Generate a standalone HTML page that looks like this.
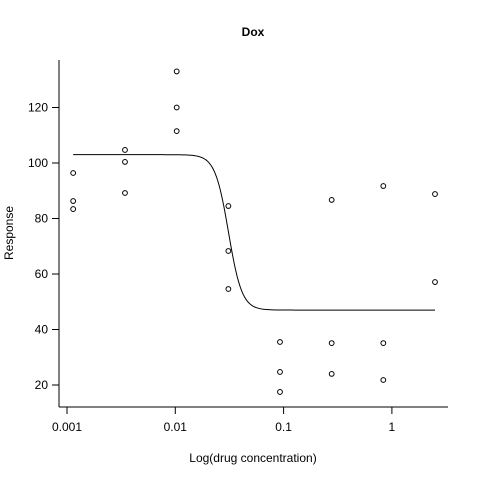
<!DOCTYPE html>
<html><head><meta charset="utf-8"><style>
body{margin:0;background:#fff}
svg text{font-family:"Liberation Sans",Arial,sans-serif;font-size:12px;fill:#000}
</style></head><body>
<svg width="480" height="480" viewBox="0 0 480 480">
<rect width="480" height="480" fill="#fff"/>
<g id="g"></g>
</svg>
<script>
const doses=[0.00114,0.00343,0.0103,0.0309,0.0926,0.278,0.833,2.5];
const responses=[[96.4,86.3,83.4],[104.7,100.4,89.2],[133,120,111.5],[84.5,68.3,54.6],[35.5,24.7,17.5],[86.7,35.1,24],[91.7,35.1,21.8],[88.8,57.1]];
const xTicks=[0.001,0.01,0.1,1];
const xTickLabels=["0.001","0.01","0.1","1"];
const yTicks=[20,40,60,80,100,120];
const fitParams=[103,47,0.031,7]; // top,bottom,ec50,hill
const NS="http://www.w3.org/2000/svg";
const g=document.getElementById('g');
const sx=v=>67+(Math.log10(v)+3)*108.3;
const sy=v=>385-(v-20)*2.775;
function mk(t,a,p){const e=document.createElementNS(NS,t);for(const k in a)e.setAttribute(k,a[k]);(p||g).appendChild(e);return e;}
let ax=mk('line',{x1:59,y1:407,x2:448,y2:407,stroke:'#000'});


let ay=mk('line',{x1:59,y1:60,x2:59,y2:407,stroke:'#000'});


xTicks.forEach((v,i)=>{const x=sx(v);
 const t=mk('line',{x1:x,y1:407,x2:x,y2:414,stroke:'#000'});
 
 
 const l=mk('text',{x:x,y:431,'text-anchor':'middle'});l.textContent=xTickLabels[i];
 
 });
yTicks.forEach(v=>{const y=sy(v);
 const t=mk('line',{x1:52,y1:y,x2:59,y2:y,stroke:'#000'});
 
 
 const l=mk('text',{x:48,y:y+4,'text-anchor':'end'});l.textContent=v;
 
 });
doses.forEach((d,i)=>responses[i].forEach(r=>{
 const c=mk('circle',{cx:sx(d),cy:sy(r),r:2.4,fill:'none',stroke:'#000','stroke-width':1});
 
 }));
const fitTop=fitParams[0],fitBot=fitParams[1],fitEc=fitParams[2],fitHill=fitParams[3];
const pts=[];
const l0=Math.log10(doses[0]),l1=Math.log10(doses[doses.length-1]);
for(let i=0;i<=300;i++){const lx=l0+(l1-l0)*i/300,x=Math.pow(10,lx);
 const y=fitBot+(fitTop-fitBot)/(1+Math.pow(x/fitEc,fitHill));pts.push(sx(x).toFixed(2)+','+sy(y).toFixed(2));}
const pl=mk('polyline',{points:pts.join(' '),fill:'none',stroke:'#000','stroke-width':1});


let tt=mk('text',{x:253,y:36,'text-anchor':'middle','font-weight':'bold','font-size':'14'});tt.textContent='Dox';


let xt=mk('text',{x:253,y:462,'text-anchor':'middle'});xt.textContent='Log(drug concentration)';


let yt=mk('text',{x:13,y:233,'text-anchor':'middle',transform:'rotate(-90 13 233)'});yt.textContent='Response';


</script>
</body></html>
